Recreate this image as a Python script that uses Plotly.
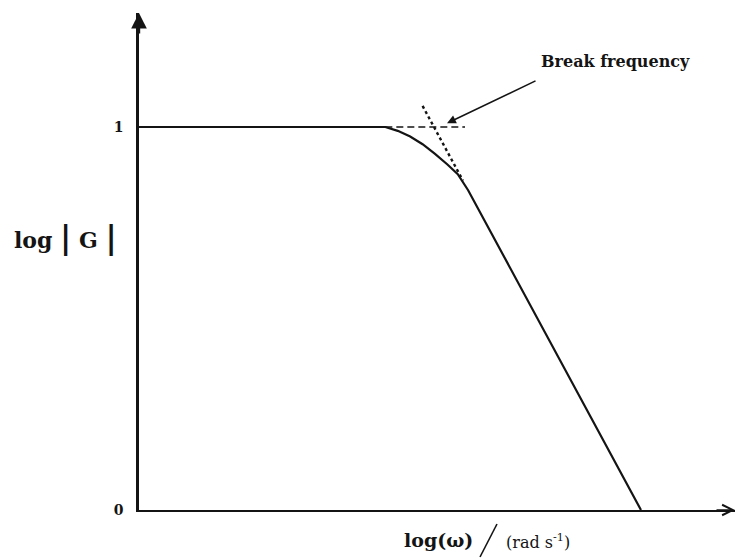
import plotly.graph_objects as go

# Bode magnitude sketch of a first-order low-pass system
log_omega = [0.0, 1.19, 1.25, 1.31, 1.37, 1.43, 1.49, 1.54, 1.59, 2.425]
log_gain = [1.0, 1.0, 0.990, 0.975, 0.955, 0.930, 0.902, 0.877, 0.835, 0.0]

# low-frequency asymptote (dashed) and high-frequency asymptote (dotted)
flat_asym_x = [1.19, 1.575]
flat_asym_y = [1.0, 1.0]
roll_asym_x = [1.37, 1.565]
roll_asym_y = [1.055, 0.86]

# where the pointer for the break-frequency label lands
break_point = (1.488, 1.010)

y_ticks = [0, 1]
y_tick_text = ["0", "1"]

W, H = 738, 559
L, R, T, B = 139, 3, 13, 49
PX_PER_X = 207.0
PX_PER_Y = 383.0
pw, ph = W - L - R, H - T - B
x_max = pw / PX_PER_X
y_max = ph / PX_PER_Y

INK = "#141414"
SERIF = "DejaVu Serif"


def paper_x(px):
    return (px - L) / pw


def paper_y(py):
    return (H - B - py) / ph


fig = go.Figure()

fig.add_trace(go.Scatter(
    x=log_omega, y=log_gain, mode="lines",
    line=dict(color=INK, width=2.2), hoverinfo="skip", showlegend=False,
))
fig.add_trace(go.Scatter(
    x=flat_asym_x, y=flat_asym_y, mode="lines",
    line=dict(color=INK, width=1.6, dash="7px,4px"), hoverinfo="skip", showlegend=False,
))
fig.add_trace(go.Scatter(
    x=roll_asym_x, y=roll_asym_y, mode="lines",
    line=dict(color=INK, width=2.4, dash="3px,3px"), hoverinfo="skip", showlegend=False,
))

annotations = [
    # axis arrowheads
    dict(x=0, y=y_max, xref="x", yref="y", ax=0, ay=22, text="", showarrow=True,
         arrowhead=2, arrowsize=1.3, arrowwidth=2.4, arrowcolor=INK, standoff=0),
    dict(x=x_max, y=0, xref="x", yref="y", ax=-20, ay=0, text="", showarrow=True,
         arrowhead=5, arrowsize=1.3, arrowwidth=1.6, arrowcolor=INK, standoff=0),
    # pointer to the break frequency
    dict(x=break_point[0], y=break_point[1], xref="x", yref="y", ax=90, ay=-43,
         text="", showarrow=True, arrowhead=2, arrowsize=1.1, arrowwidth=1.6,
         arrowcolor=INK, standoff=0),
    dict(x=paper_x(539), y=paper_y(62), xref="paper", yref="paper",
         xanchor="left", yanchor="middle", showarrow=False,
         text="<b>Break frequency</b>",
         font=dict(family=SERIF, size=16, color=INK)),
    # y-axis title
    dict(x=paper_x(12), y=paper_y(238), xref="paper", yref="paper",
         xanchor="left", yanchor="middle", showarrow=False,
         text="<b>log <span style='font-size:31px'>|</span> G "
              "<span style='font-size:31px'>|</span></b>",
         font=dict(family=SERIF, size=22, color=INK)),
    # x-axis title
    dict(x=paper_x(402), y=paper_y(540), xref="paper", yref="paper",
         xanchor="left", yanchor="middle", showarrow=False,
         text="<b>log(ω)</b>",
         font=dict(family=SERIF, size=19, color=INK)),
    dict(x=paper_x(504), y=paper_y(541), xref="paper", yref="paper",
         xanchor="left", yanchor="middle", showarrow=False,
         text="(rad s<sup>-1</sup>)",
         font=dict(family=SERIF, size=16, color=INK)),
]

fig.add_shape(type="line", xref="paper", yref="paper",
              x0=paper_x(480), y0=paper_y(557), x1=paper_x(497), y1=paper_y(524),
              line=dict(color=INK, width=1.6))

fig.update_layout(
    width=W, height=H,
    margin=dict(l=L, r=R, t=T, b=B),
    paper_bgcolor="white", plot_bgcolor="white",
    annotations=annotations,
    xaxis=dict(range=[0, x_max], showgrid=False, zeroline=False,
               showticklabels=False, ticks="",
               showline=True, linewidth=2.4, linecolor=INK),
    yaxis=dict(range=[0, y_max], showgrid=False, zeroline=False,
               tickmode="array", tickvals=y_ticks, ticktext=y_tick_text,
               ticks="", ticklabelstandoff=10,
               tickfont=dict(family=SERIF, size=14, color=INK, weight="bold"),
               showline=True, linewidth=2.6, linecolor=INK),
)

fig.write_html("out.html")
